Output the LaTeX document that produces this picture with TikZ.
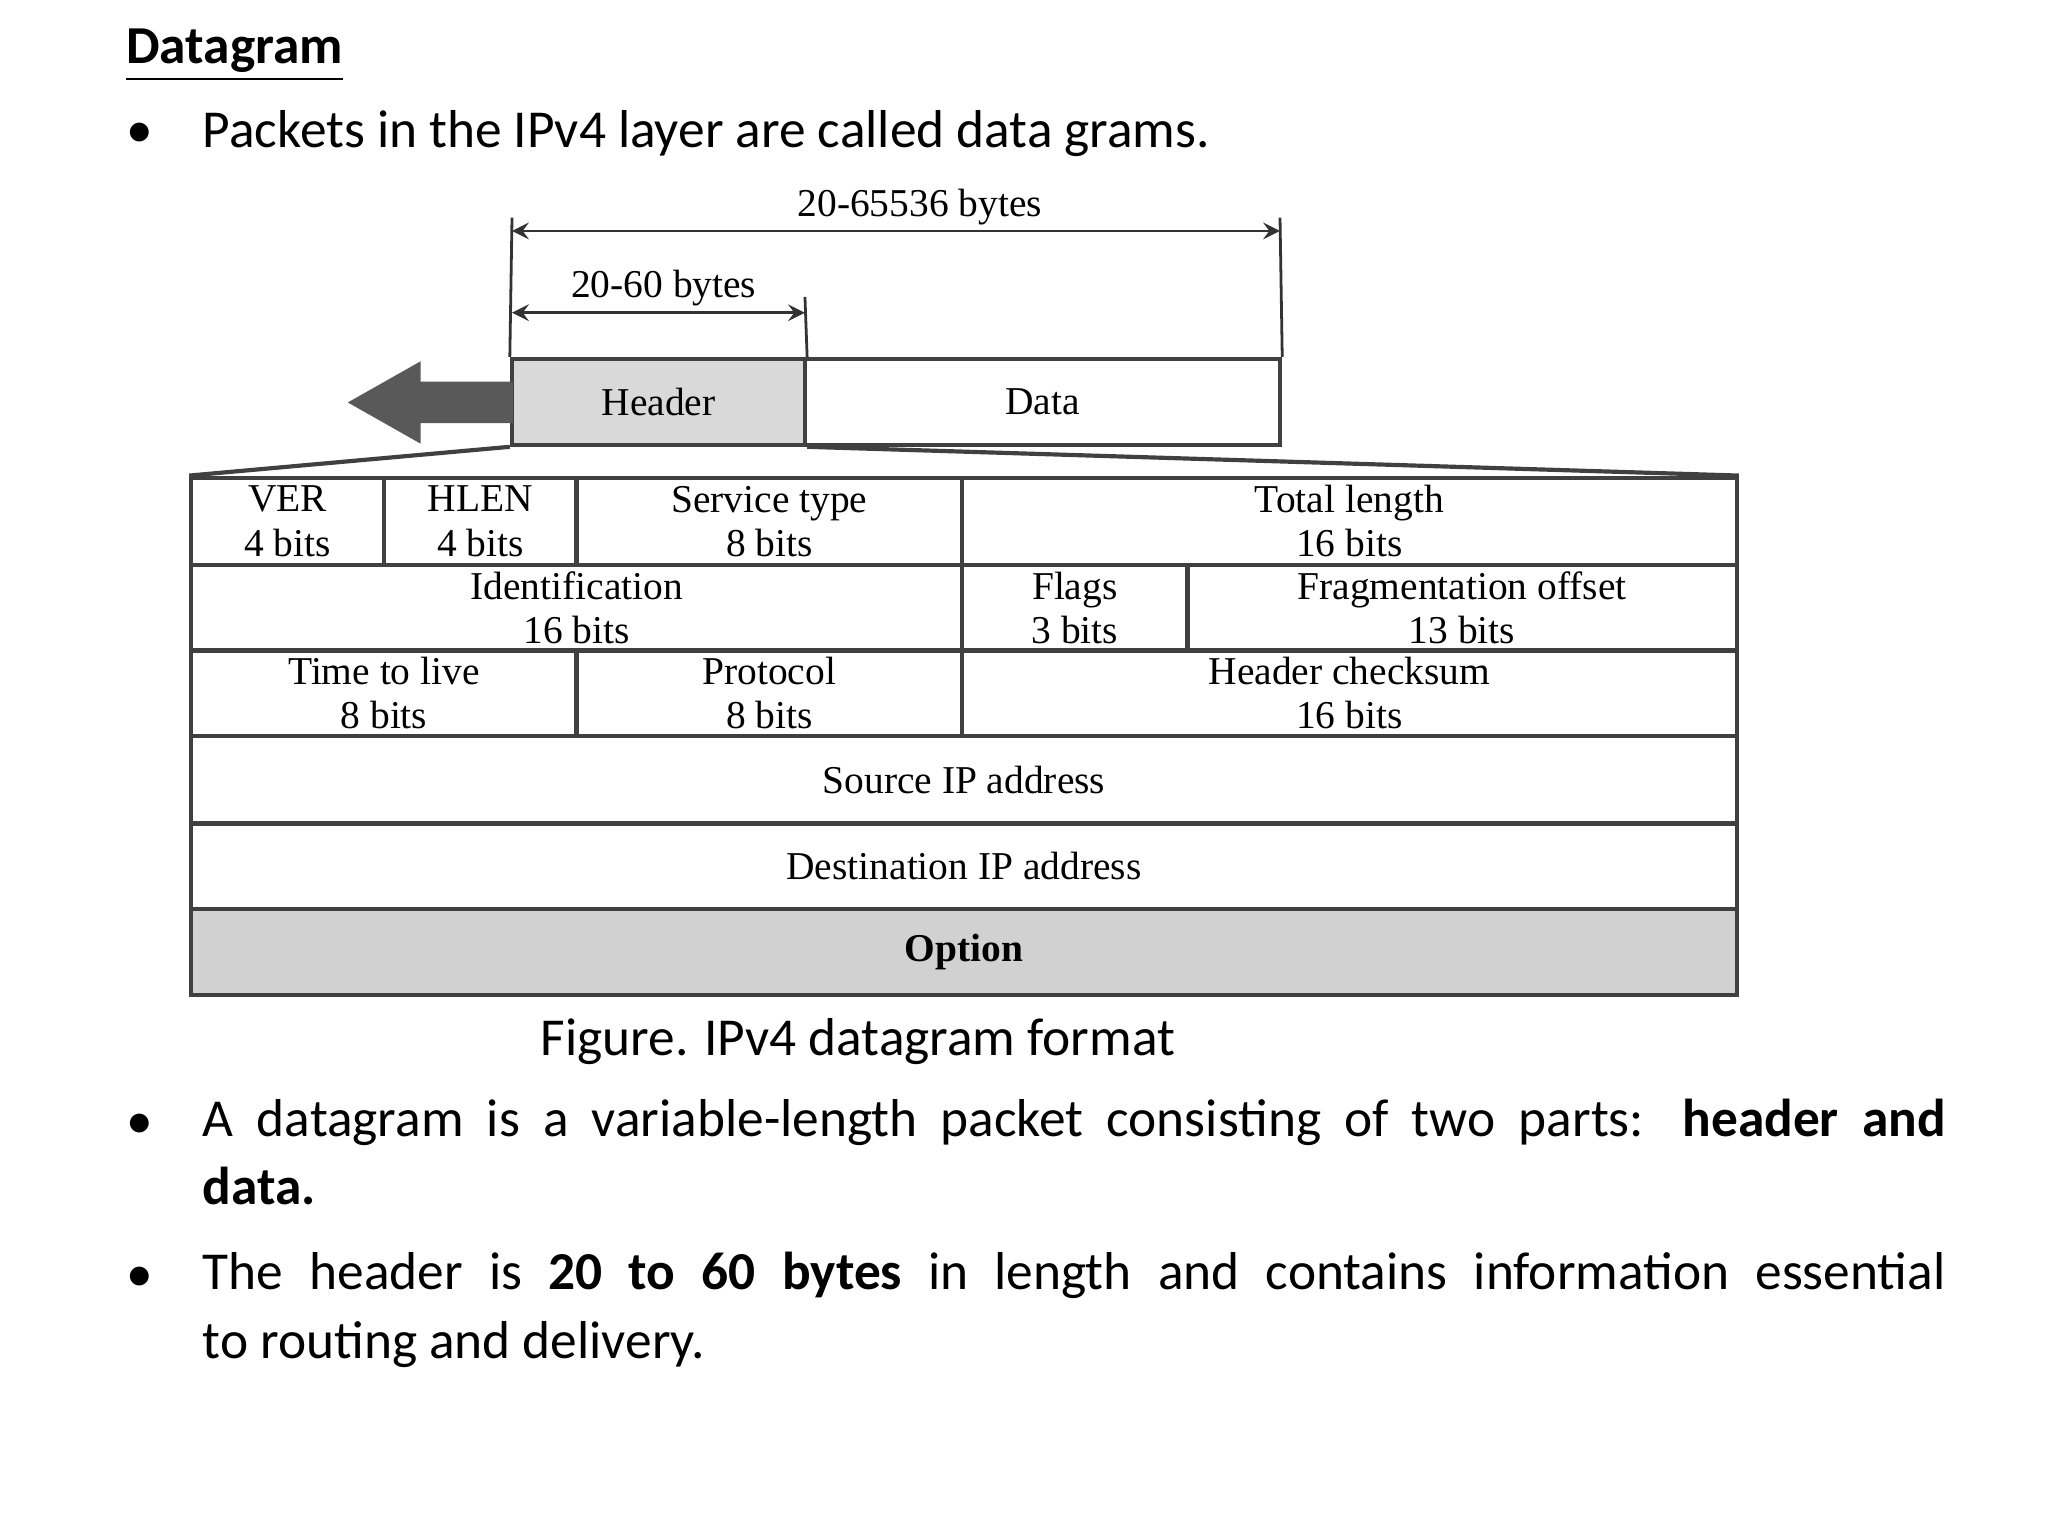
\documentclass[tikz,border=0pt]{standalone}
\usepackage{fontspec}
\setmainfont{Carlito}
\newfontfamily\diagfont{Liberation Serif}
\tikzset{
  cell/.style={draw=black!75, line width=0.9pt, inner sep=0pt, align=center, font=\diagfont\fontsize{8.5}{9.5}\selectfont},
  body/.style={anchor=base west, inner sep=0pt, font=\fontsize{11.5}{14.8}\selectfont},
  dim/.style={draw=black!80, line width=0.6pt, -stealth},
  tick/.style={draw=black!80, line width=0.6pt},
  lbl/.style={font=\diagfont\fontsize{8.5}{9.5}\selectfont, inner sep=0pt}
}
\begin{document}
\begin{tikzpicture}[x=0.01cm,y=-0.01cm]
\useasboundingbox (0,0) rectangle (1552,1164);
% title and bullets
\node[body] (title) at (95,48) {\textbf{\underline{Datagram}}};
\node[body] (b1) at (95,112) {•};
\node[body] (t1) at (153,112) {Packets in the IPv4 layer are called data grams.};
% top boxes
\node[cell, fill=black!15, minimum width=2.22cm, minimum height=0.65cm] (hdr) at (499,304.5) {Header};
\node[cell, minimum width=3.6cm, minimum height=0.65cm] (data) at (790,304.5) {Data};
% big arrow
\filldraw[fill=black!65, draw=black!65] (388,290) -- (318,290) -- (318,275) -- (265,305) -- (318,335) -- (318,320) -- (388,320) -- cycle;
% dimension lines
\coordinate (a1) at (388,165);
\coordinate (a2) at (970,165);
\coordinate (a3) at (610,225);
\draw[tick] (hdr.north west) -- (a1);
\draw[tick] (data.north east) -- (a2);
\draw[tick] (hdr.north east) -- (a3);
\draw[dim, stealth-stealth] (388,175) -- (970,175);
\node[lbl] (l1) at (697,157) {20-65536 bytes};
\draw[dim, stealth-stealth] (388,237) -- (610,237);
\node[lbl] (l2) at (503,218) {20-60 bytes};
% table
\node[cell, minimum width=1.46cm, minimum height=0.66cm] (ver) at (218,395) {VER\\4 bits};
\node[cell, minimum width=1.46cm, minimum height=0.66cm] (hlen) at (364,395) {HLEN\\4 bits};
\node[cell, minimum width=2.92cm, minimum height=0.66cm] (svc) at (583,395) {Service type\\8 bits};
\node[cell, minimum width=5.87cm, minimum height=0.66cm] (tot) at (1022.5,395) {Total length\\16 bits};
\node[cell, minimum width=5.84cm, minimum height=0.65cm] (id) at (437,460.5) {Identification\\16 bits};
\node[cell, minimum width=1.71cm, minimum height=0.65cm] (flg) at (814.5,460.5) {Flags\\3 bits};
\node[cell, minimum width=4.16cm, minimum height=0.65cm] (frag) at (1108,460.5) {Fragmentation offset\\13 bits};
\node[cell, minimum width=2.92cm, minimum height=0.65cm] (ttl) at (291,525.5) {Time to live\\8 bits};
\node[cell, minimum width=2.92cm, minimum height=0.65cm] (proto) at (583,525.5) {Protocol\\8 bits};
\node[cell, minimum width=5.87cm, minimum height=0.65cm] (chk) at (1022.5,525.5) {Header checksum\\16 bits};
\node[cell, minimum width=11.71cm, minimum height=0.66cm] (src) at (730.5,591) {Source IP address};
\node[cell, minimum width=11.71cm, minimum height=0.65cm] (dst) at (730.5,656.5) {Destination IP address};
\node[cell, fill=black!18, minimum width=11.71cm, minimum height=0.65cm] (opt) at (730.5,721.5) {\bfseries Option};
% expansion lines
\draw[draw=black!75, line width=0.9pt] (hdr.south west) -- (ver.north west);
\draw[draw=black!75, line width=0.9pt] (hdr.south east) -- (tot.north east);
% caption
\node[body] (cap) at (409,800) {Figure. IPv4 datagram format};
% bullets
\node[body] (b2) at (95,863) {•};
\node[body, anchor=north west, text width=13.2cm, align=justify] (t2) at (153,832) {A datagram is a variable-length packet consisting of two parts: \textbf{header and}\linebreak \textbf{data.}};
\node[body] (b3) at (95,979) {•};
\node[body, anchor=north west, text width=13.2cm, align=justify] (t3) at (153,948) {The header is \textbf{20 to 60 bytes} in length and contains information essential\linebreak to routing and delivery.};
\end{tikzpicture}
\end{document}
